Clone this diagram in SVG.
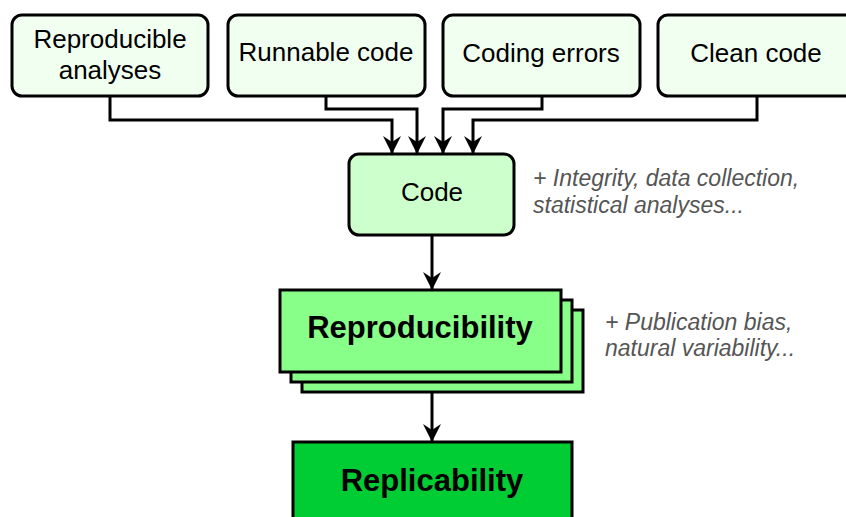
<svg xmlns="http://www.w3.org/2000/svg" width="846" height="517" viewBox="0 0 846 517">
<defs>
<style>
.top{fill:#f0fff0;stroke:#000;stroke-width:3}
.code{fill:#ccffcc;stroke:#000;stroke-width:3}
.rep{fill:#88ff88;stroke:#000;stroke-width:3}
.repl{fill:#00cc33;stroke:#000;stroke-width:3}
.lbl{font-family:"Liberation Sans",Arial,sans-serif;font-size:26px;fill:#000;text-anchor:middle}
.big{font-family:"Liberation Sans",Arial,sans-serif;font-size:31px;font-weight:bold;fill:#000;text-anchor:middle}
.note{font-family:"Liberation Sans",Arial,sans-serif;font-size:23px;font-style:italic;fill:#555}
.conn{fill:none;stroke:#000;stroke-width:3}
</style>
<marker id="ah" viewBox="0 0 18 18" refX="18" refY="9" markerWidth="18" markerHeight="18" markerUnits="userSpaceOnUse" orient="auto">
<path d="M0,0 L18,9 L0,18 L6,9 Z" fill="#000"/>
</marker>
</defs>
<g id="connectors">
<path class="conn" d="M110 96 V120 H392 V154" marker-end="url(#ah)"/>
<path class="conn" d="M326 96 V109 H417 V154" marker-end="url(#ah)"/>
<path class="conn" d="M542 96 V109 H443 V154" marker-end="url(#ah)"/>
<path class="conn" d="M757 96 V120 H473 V154" marker-end="url(#ah)"/>
<path class="conn" d="M432 235 V290" marker-end="url(#ah)"/>
<path class="conn" d="M432 392 V442" marker-end="url(#ah)"/>
</g>
<g id="reproducible-analyses">
<rect class="top" x="12" y="15" width="196" height="81" rx="10"/>
<text class="lbl" x="110" y="48">Reproducible</text>
<text class="lbl" x="110" y="79">analyses</text>
</g>
<g id="runnable-code">
<rect class="top" x="228" y="15" width="197" height="81" rx="10"/>
<text class="lbl" x="326" y="61">Runnable code</text>
</g>
<g id="coding-errors">
<rect class="top" x="443" y="15" width="197" height="81" rx="10"/>
<text class="lbl" x="541" y="62">Coding errors</text>
</g>
<g id="clean-code">
<rect class="top" x="658" y="15" width="197" height="81" rx="10"/>
<text class="lbl" x="756" y="62">Clean code</text>
</g>
<g id="code">
<rect class="code" x="349" y="154" width="165" height="81" rx="10"/>
<text class="lbl" x="432" y="201">Code</text>
</g>
<g id="note-code">
<text class="note" x="533" y="186">+ Integrity, data collection,</text>
<text class="note" x="533" y="213">statistical analyses...</text>
</g>
<g id="reproducibility">
<rect class="rep" x="302" y="310" width="281" height="82"/>
<rect class="rep" x="291" y="300" width="281" height="82"/>
<rect class="rep" x="280" y="290" width="281" height="82"/>
<text class="big" x="420" y="338">Reproducibility</text>
</g>
<g id="note-repro">
<text class="note" x="605" y="330">+ Publication bias,</text>
<text class="note" x="605" y="356">natural variability...</text>
</g>
<g id="replicability">
<rect class="repl" x="293" y="442" width="279" height="90"/>
<text class="big" x="432" y="491">Replicability</text>
</g>
</svg>
